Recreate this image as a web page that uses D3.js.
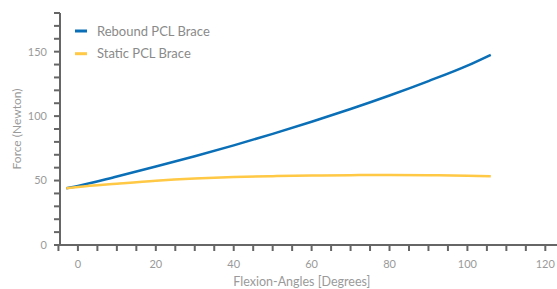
<!DOCTYPE html>
<html>
<head>
<meta charset="utf-8">
<script src="https://cdn.jsdelivr.net/npm/d3@7"></script>
<style>
  body { margin: 0; background: #fff; }
  text { font-family: "Lato", "Open Sans", sans-serif; }
</style>
</head>
<body>
<svg id="chart" width="557" height="289"></svg>
<script>
// Data
const angles = [-3, 0, 10, 20, 30, 40, 50, 60, 70, 80, 90, 100, 106];
const rebound = [44, 45.8, 53.2, 60.9, 68.9, 77.3, 86.2, 95.6, 105.5, 116, 127.2, 139.2, 147.6];
const staticBrace = [44, 45, 47.5, 49.8, 51.5, 52.7, 53.4, 53.9, 54.2, 54.3, 54.1, 53.8, 53.4];
const xTicks = [0, 20, 40, 60, 80, 100, 120];
const yTicks = [0, 50, 100, 150];

const seriesList = [
    { name: "Rebound PCL Brace", values: rebound, color: "#0a6fb7" },
    { name: "Static PCL Brace", values: staticBrace, color: "#ffc845" }
];

const svg = d3.select("#chart");

// Scales
const x = d3.scaleLinear().domain([-4.6, 123]).range([60, 557]);
const y = d3.scaleLinear().domain([0, 180]).range([245, 13]);

const axisColor = "#666";
const labelColor = "#9a9a9a";

// Y axis
const yAxis = svg.append("g").attr("transform", "translate(60,0)");
yAxis.append("line")
    .attr("y1", y(0)).attr("y2", y(180))
    .attr("stroke", axisColor).attr("stroke-width", 2);
yAxis.selectAll(".ytick")
    .data(d3.range(0, 181, 10))
    .enter().append("line")
    .attr("x1", -6).attr("x2", 0)
    .attr("y1", d => y(d)).attr("y2", d => y(d))
    .attr("stroke", axisColor).attr("stroke-width", 2);
yAxis.selectAll(".ylabel")
    .data(yTicks)
    .enter().append("text")
    .attr("x", -13).attr("y", d => y(d))
    .attr("dy", "0.35em")
    .attr("text-anchor", "end")
    .attr("font-size", 11)
    .attr("fill", labelColor)
    .text(d => d);

// X axis
const xAxis = svg.append("g").attr("transform", `translate(0,${y(0)})`);
xAxis.append("line")
    .attr("x1", 59).attr("x2", 557)
    .attr("stroke", axisColor).attr("stroke-width", 2);
xAxis.selectAll(".xtick")
    .data(d3.range(-5, 125, 5))
    .enter().append("line")
    .attr("x1", d => x(d)).attr("x2", d => x(d))
    .attr("y1", 0).attr("y2", 6)
    .attr("stroke", axisColor).attr("stroke-width", 2);
xAxis.selectAll(".xlabel")
    .data(xTicks)
    .enter().append("text")
    .attr("x", d => x(d)).attr("y", 19.5)
    .attr("dy", "0.35em")
    .attr("text-anchor", "middle")
    .attr("font-size", 11)
    .attr("fill", labelColor)
    .text(d => d);

// Axis titles
svg.append("text")
    .attr("x", x(57.5)).attr("y", 286)
    .attr("text-anchor", "middle")
    .attr("font-size", 12.5)
    .attr("fill", labelColor)
    .text("Flexion-Angles [Degrees]");

svg.append("text")
    .attr("transform", `translate(21,${y(90)}) rotate(-90)`)
    .attr("text-anchor", "middle")
    .attr("font-size", 12)
    .attr("fill", labelColor)
    .text("Force (Newton)");

// Lines
const line = d3.line()
    .x((d, i) => x(angles[i]))
    .y(d => y(d))
    .curve(d3.curveMonotoneX);

svg.selectAll(".series")
    .data(seriesList)
    .enter().append("path")
    .attr("d", d => line(d.values))
    .attr("fill", "none")
    .attr("stroke", d => d.color)
    .attr("stroke-width", 2.5);

// Legend
const legend = svg.selectAll(".legend")
    .data(seriesList)
    .enter().append("g")
    .attr("transform", (d, i) => `translate(75,${31 + i * 22.7})`);
legend.append("line")
    .attr("x1", 0).attr("x2", 12)
    .attr("stroke", d => d.color)
    .attr("stroke-width", 3);
legend.append("text")
    .attr("x", 22).attr("dy", "0.35em")
    .attr("font-size", 13)
    .attr("fill", "#8a8a8a")
    .text(d => d.name);
</script>
</body>
</html>
